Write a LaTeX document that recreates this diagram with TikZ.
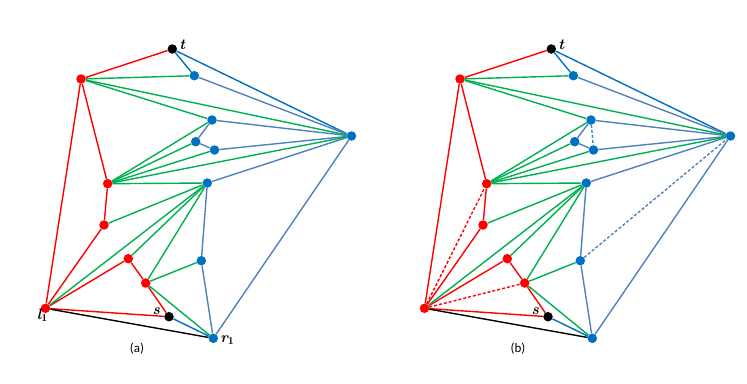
\documentclass[tikz,border=0pt]{standalone}
\usepackage{fontspec}
\newfontfamily\capfont{Carlito}
\usetikzlibrary{positioning}
\definecolor{ptred}{RGB}{255,0,0}
\definecolor{ptgreen}{RGB}{0,176,80}
\definecolor{ptblue}{RGB}{0,112,192}
\definecolor{ptsteel}{RGB}{79,129,189}
\begin{document}
\begin{tikzpicture}[x=1pt,y=-1pt]
\tikzstyle{dot}=[circle,inner sep=0pt,minimum size=9.5pt]
\tikzstyle{rdot}=[dot,fill=ptred]
\tikzstyle{bdot}=[dot,fill=ptblue]
\tikzstyle{kdot}=[dot,fill=black]
\tikzstyle{redge}=[draw=ptred,line width=1.4pt]
\tikzstyle{gedge}=[draw=ptgreen,line width=1.4pt]
\tikzstyle{bedge}=[draw=ptblue,line width=1.4pt]
\tikzstyle{sedge}=[draw=ptsteel,line width=1.4pt]
\tikzstyle{kedge}=[draw=black,line width=1.4pt]
\tikzstyle{dsh}=[dash pattern=on 3pt off 2pt]
\tikzstyle{mlab}=[inner sep=1pt,font=\fontsize{15}{17}\selectfont\bfseries\itshape]
\tikzstyle{captxt}=[font=\capfont\fontsize{13}{15}\selectfont]
\useasboundingbox (0,0) rectangle (747,383);
\foreach \p/\dx in {a/0,b/379}{
\begin{scope}[xshift=\dx]
% vertices
\node[kdot] (\p-t) at (172.3,49) {};
\node[rdot] (\p-A) at (81,79) {};
\node[bdot] (\p-B1) at (194.3,75.7) {};
\node[bdot] (\p-R) at (351.5,136) {};
\node[bdot] (\p-B2) at (212,120) {};
\node[bdot] (\p-B3) at (195.7,141.7) {};
\node[bdot] (\p-B4) at (214.5,150) {};
\node[rdot] (\p-C) at (107.7,183.7) {};
\node[bdot] (\p-B5) at (207.3,183) {};
\node[rdot] (\p-D) at (104,225) {};
\node[rdot] (\p-E) at (128.3,258.7) {};
\node[rdot] (\p-F) at (145.7,283) {};
\node[bdot] (\p-B6) at (201.3,260.7) {};
\node[rdot] (\p-l) at (45.5,308.3) {};
\node[kdot] (\p-s) at (169,316.7) {};
\node[bdot] (\p-r) at (213.3,338.3) {};
% red chain
\draw[redge] (\p-t) -- (\p-A) -- (\p-l);
\draw[redge] (\p-A) -- (\p-C) -- (\p-D) -- (\p-l);
\draw[redge] (\p-l) -- (\p-E) -- (\p-F) -- (\p-s) -- (\p-l);
\draw[kedge] (\p-l) -- (\p-r);
% blue chain
\draw[bedge] (\p-B1) -- (\p-t) -- (\p-R);
\draw[bedge] (\p-s) -- (\p-r);
\draw[sedge] (\p-B1) -- (\p-R) -- (\p-B2) -- (\p-B3) -- (\p-B4) -- (\p-R);
\draw[sedge] (\p-R) -- (\p-B5) -- (\p-B6) -- (\p-r) -- (\p-R);
% green diagonals
\foreach \q in {B1,R,B2}{\draw[gedge] (\p-A) -- (\p-\q);}
\foreach \q in {B2,B3,B4,R,B5}{\draw[gedge] (\p-C) -- (\p-\q);}
\foreach \q in {D,l,E,F}{\draw[gedge] (\p-B5) -- (\p-\q);}
\draw[gedge] (\p-B6) -- (\p-F) -- (\p-r);
% labels
\node[mlab,right=1pt of \p-t,yshift=4pt] {t};
\node[mlab,left=3pt of \p-s,yshift=6pt] {s};
\end{scope}
}
\node[mlab,below left=-4pt and -7pt of a-l] {l\textsubscript{\upshape 1}};
\node[mlab,right=1pt of a-r,yshift=-2pt] {r\textsubscript{\upshape 1}};
\node[captxt] at (137,349) {(a)};
\node[captxt] at (518,349) {(b)};
% added edges in (b)
\draw[redge,dsh] (b-l) -- (b-C);
\draw[redge,dsh] (b-l) -- (b-F);
\draw[sedge,dsh] (b-B2) -- (b-B4);
\draw[sedge,dsh] (b-B6) -- (b-R);
\end{tikzpicture}
\end{document}
